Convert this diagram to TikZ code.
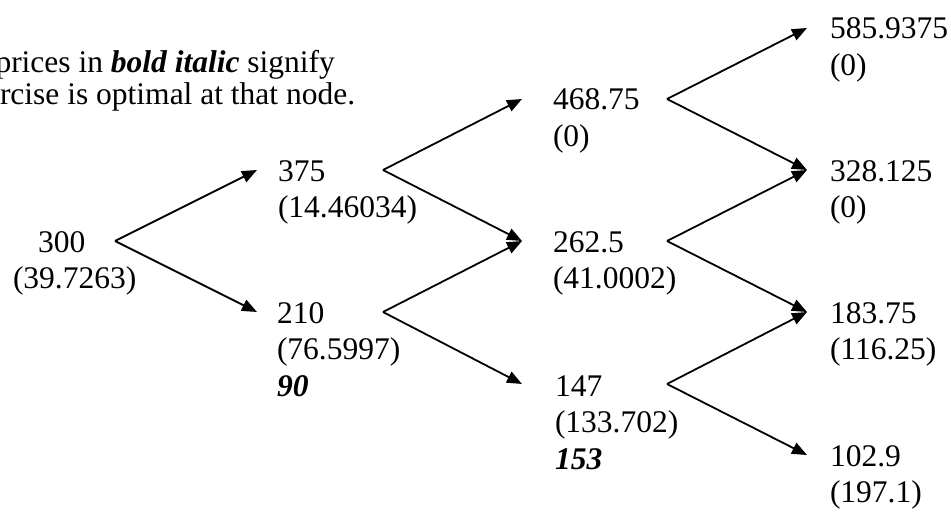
\documentclass[tikz,border=0pt]{standalone}
\usepackage{fontspec}
\setmainfont{Liberation Serif}
\usetikzlibrary{arrows.meta}
\begin{document}
\begin{tikzpicture}[x=1pt,y=-1pt,
  lbl/.style={anchor=base west, inner sep=0pt, outer sep=0pt, font=\fontsize{31.5}{37}\selectfont},
  optlbl/.style={lbl, font=\fontsize{31.5}{37}\selectfont\bfseries\itshape},
  conn/.style={line width=1.8pt, -{Triangle[length=15pt,width=12pt]}}]
\useasboundingbox (0,0) rectangle (951,519);
\fill[white] (0,0) rectangle (951,519);
\clip (0,0) rectangle (951,519);

% annotation (cut off at the left edge)
\node[lbl] (note1) at (-4.5,73) {prices in \textbf{\textit{bold italic}} signify};
\node[lbl] (note2) at (0,105) {rcise is optimal at that node.};
\node[lbl] (frag) at (-2,540) {\textit{K}};

% column 0
\node[lbl] (s0) at (38,252) {300};
\node[lbl] (v0) at (13,288.5) {(39.7263)};

% column 1
\node[lbl] (s1u) at (278,181) {375};
\node[lbl] (v1u) at (278,217.5) {(14.46034)};
\node[lbl] (s1d) at (277,323) {210};
\node[lbl] (v1d) at (277,359.5) {(76.5997)};
\node[optlbl] (x1d) at (277,396) {90};

% column 2
\node[lbl] (s2a) at (553,110) {468.75};
\node[lbl] (v2a) at (553,146.5) {(0)};
\node[lbl] (s2b) at (553,252) {262.5};
\node[lbl] (v2b) at (553,288.5) {(41.0002)};
\node[lbl] (s2c) at (555,396) {147};
\node[lbl] (v2c) at (555,432.5) {(133.702)};
\node[optlbl] (x2c) at (555,469) {153};

% column 3
\node[lbl] (s3a) at (830,39) {585.9375};
\node[lbl] (v3a) at (830,75.5) {(0)};
\node[lbl] (s3b) at (830,181) {328.125};
\node[lbl] (v3b) at (830,217.5) {(0)};
\node[lbl] (s3c) at (830,323) {183.75};
\node[lbl] (v3c) at (830,359.5) {(116.25)};
\node[lbl] (s3d) at (830,466) {102.9};
\node[lbl] (v3d) at (830,502.5) {(197.1)};

% fork apexes and arrow tips
\coordinate (a0) at (115,241);
\coordinate (t1u) at (257,170);
\coordinate (t1d) at (257,312);
\coordinate (a1u) at (383,170);
\coordinate (a1d) at (383,312);
\coordinate (t2a) at (522,99);
\coordinate (t2b) at (522,241);
\coordinate (t2c) at (522,384);
\coordinate (a2a) at (667,99);
\coordinate (a2b) at (667,241);
\coordinate (a2c) at (667,384);
\coordinate (t3a) at (807,28);
\coordinate (t3b) at (807,170);
\coordinate (t3c) at (807,312);
\coordinate (t3d) at (807,455);

\draw[conn] (a0) -- (t1u);
\draw[conn] (a0) -- (t1d);
\draw[conn] (a1u) -- (t2a);
\draw[conn] (a1u) -- (t2b);
\draw[conn] (a1d) -- (t2b);
\draw[conn] (a1d) -- (t2c);
\draw[conn] (a2a) -- (t3a);
\draw[conn] (a2a) -- (t3b);
\draw[conn] (a2b) -- (t3b);
\draw[conn] (a2b) -- (t3c);
\draw[conn] (a2c) -- (t3c);
\draw[conn] (a2c) -- (t3d);
\end{tikzpicture}
\end{document}
